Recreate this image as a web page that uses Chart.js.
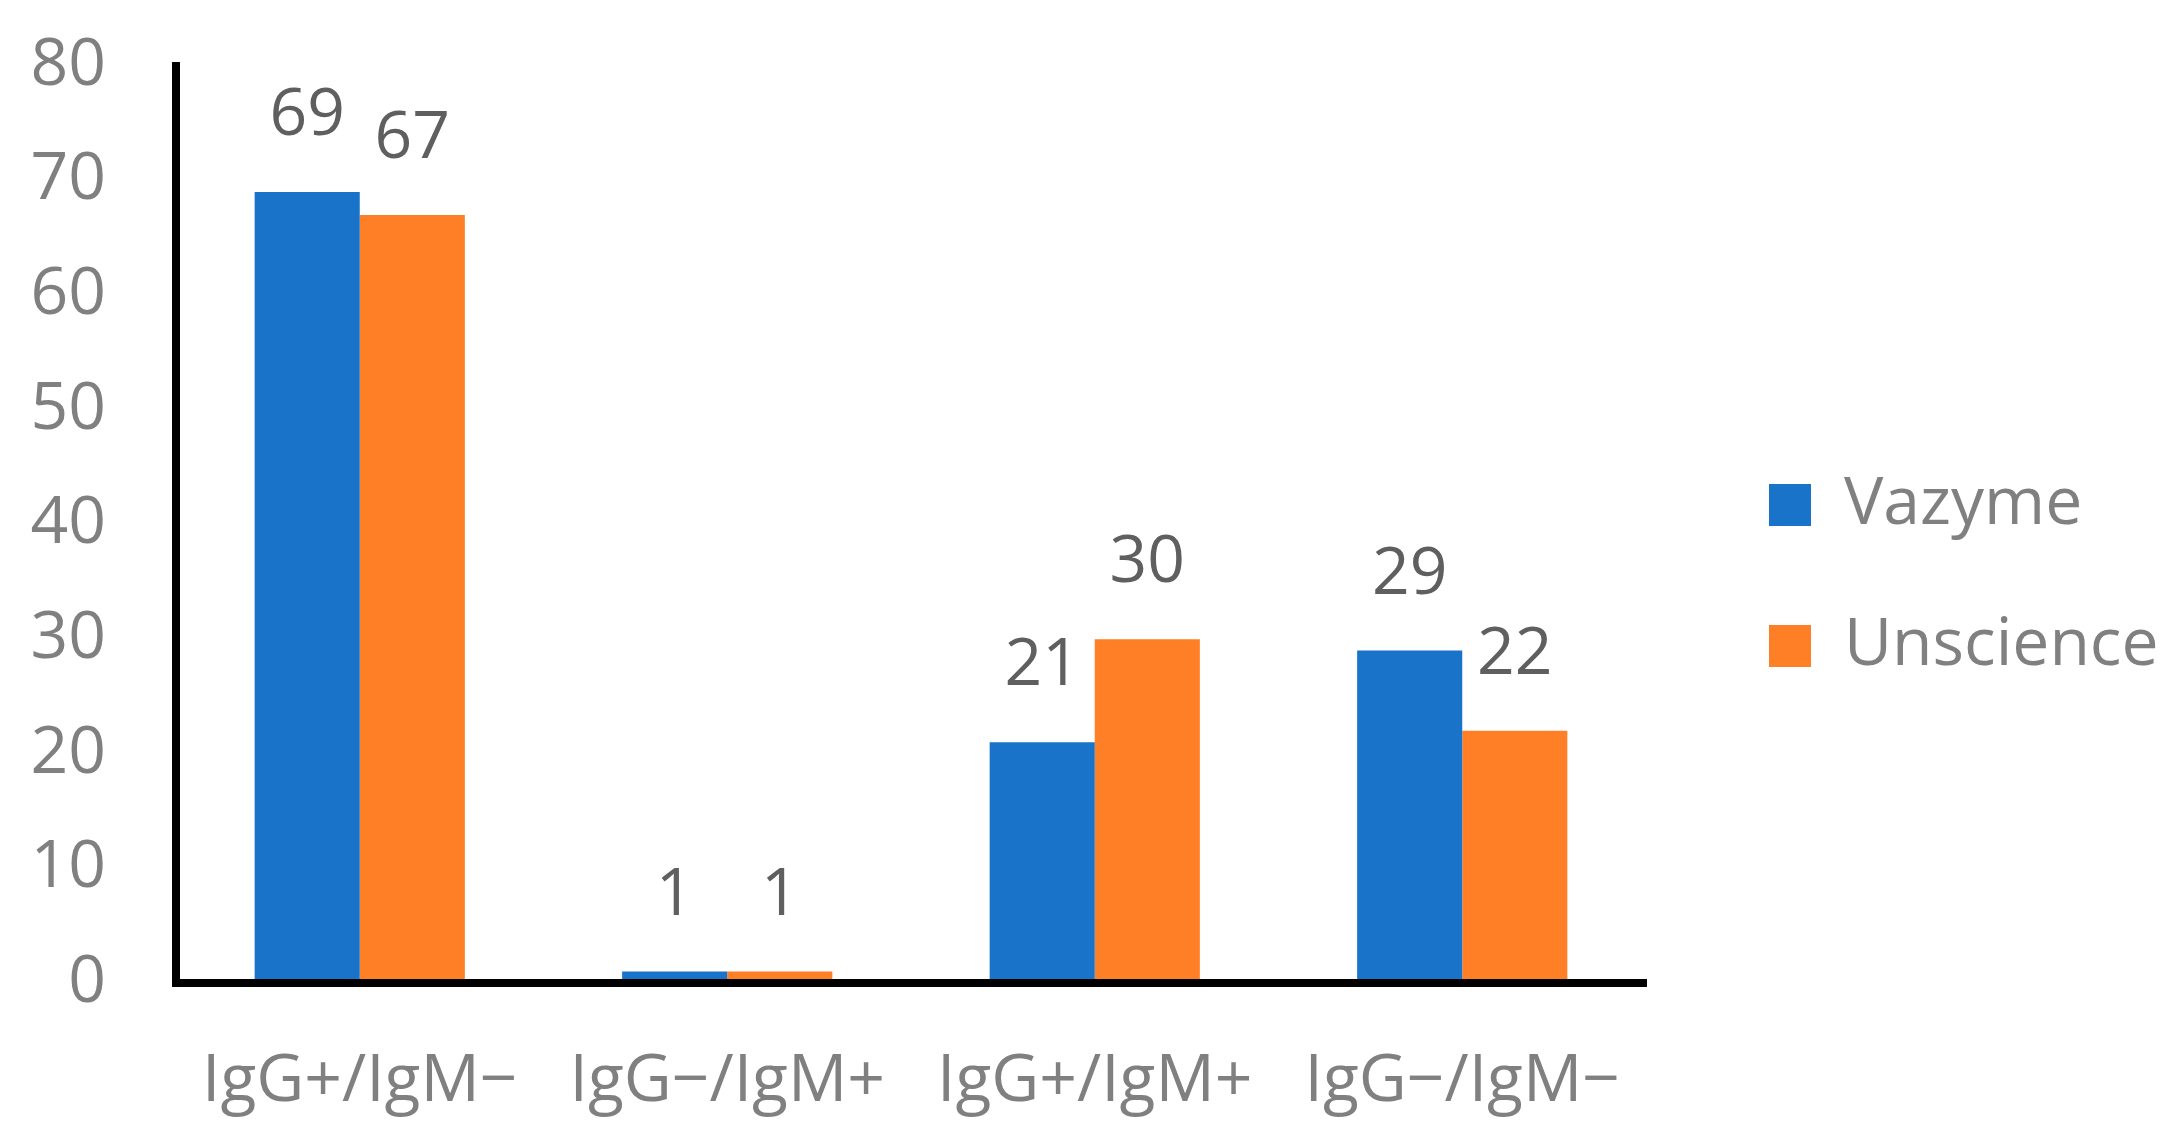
<!DOCTYPE html>
<html>
<head>
<meta charset="utf-8">
<script src="https://cdn.jsdelivr.net/npm/chart.js@4/dist/chart.umd.min.js"></script>
<style>
  body { margin: 0; background: #fff; }
  #wrap { width: 2167px; height: 1136px; }
</style>
</head>
<body>
<div id="wrap"><canvas id="chart"></canvas></div>
<script>
'use strict';

// values
const categories = ['IgG+/IgM\u2212', 'IgG\u2212/IgM+', 'IgG+/IgM+', 'IgG\u2212/IgM\u2212'];
const vazyme = [69, 1, 21, 29];
const unscience = [67, 1, 30, 22];
const seriesNames = ['Vazyme', 'Unscience'];
const yTicks = [0, 10, 20, 30, 40, 50, 60, 70, 80];

const FONT = '"Open Sans", "Noto Sans", sans-serif';
const AXIS_GREY = '#808080';
const LABEL_GREY = '#5f5f5f';

// numbers above the bars
const barValueLabels = {
  id: 'barValueLabels',
  afterDatasetsDraw(chart) {
    const ctx = chart.ctx;
    ctx.save();
    ctx.font = '66px ' + FONT;
    ctx.fillStyle = LABEL_GREY;
    ctx.textAlign = 'center';
    ctx.textBaseline = 'alphabetic';
    chart.data.datasets.forEach((ds, i) => {
      chart.getDatasetMeta(i).data.forEach((bar, j) => {
        ctx.fillText(String(ds.data[j]), bar.x, bar.y - 57);
      });
    });
    ctx.restore();
  }
};

// move the legend block to where it sits in the figure
const legendPlace = {
  id: 'legendPlace',
  afterLayout(chart) {
    const lg = chart.legend;
    if (!lg || !lg.columnSizes || !lg.columnSizes.length) return;
    const p = lg.options.labels.padding;
    const colH = lg.columnSizes[0].height;
    const itemH = lg.legendHitBoxes[0].height;
    const h = lg.bottom - lg.top;
    const wantTop = 505 - itemH / 2;
    lg.top = wantTop - (p + h - colH) / 2;
    lg.bottom = lg.top + h;
    lg.left = 1769 - p;
    lg.right = chart.width;
    lg.width = lg.right - lg.left;
  }
};

const ctx = document.getElementById('chart').getContext('2d');
const chart = new Chart(ctx, {
  type: 'bar',
  data: {
    labels: categories,
    datasets: [
      { label: seriesNames[0], data: vazyme, backgroundColor: '#1873c9' },
      { label: seriesNames[1], data: unscience, backgroundColor: '#ff7f27' }
    ]
  },
  options: {
    responsive: true,
    maintainAspectRatio: false,
    animation: false,
    layout: { padding: { left: 0, top: 66, right: 121, bottom: 0 } },
    datasets: { bar: { categoryPercentage: 0.572, barPercentage: 1 } },
    scales: {
      x: {
        grid: { display: false, drawTicks: false },
        border: { display: true, color: '#000', width: 8, z: 1 },
        ticks: { color: AXIS_GREY, font: { family: FONT, size: 66 }, padding: 60, maxRotation: 0, autoSkip: false },
        afterFit(scale) { scale.height = 153; }
      },
      y: {
        min: 0,
        max: 80,
        afterBuildTicks(scale) { scale.ticks = yTicks.map(v => ({ value: v })); },
        grid: { display: false, drawTicks: false },
        border: { display: true, color: '#000', width: 8, z: 1 },
        ticks: { color: AXIS_GREY, font: { family: FONT, size: 66 }, padding: 70 },
        afterFit(scale) {
          scale.width = 176;
          scale.paddingTop = 0;
          scale.paddingBottom = 0;
        }
      }
    },
    plugins: {
      legend: {
        position: 'right',
        align: 'center',
        maxWidth: 400,
        labels: {
          color: AXIS_GREY,
          font: { family: FONT, size: 66 },
          boxWidth: 42,
          boxHeight: 42,
          padding: 75
        }
      },
      tooltip: { enabled: false }
    }
  },
  plugins: [barValueLabels, legendPlace]
});
</script>
</body>
</html>
